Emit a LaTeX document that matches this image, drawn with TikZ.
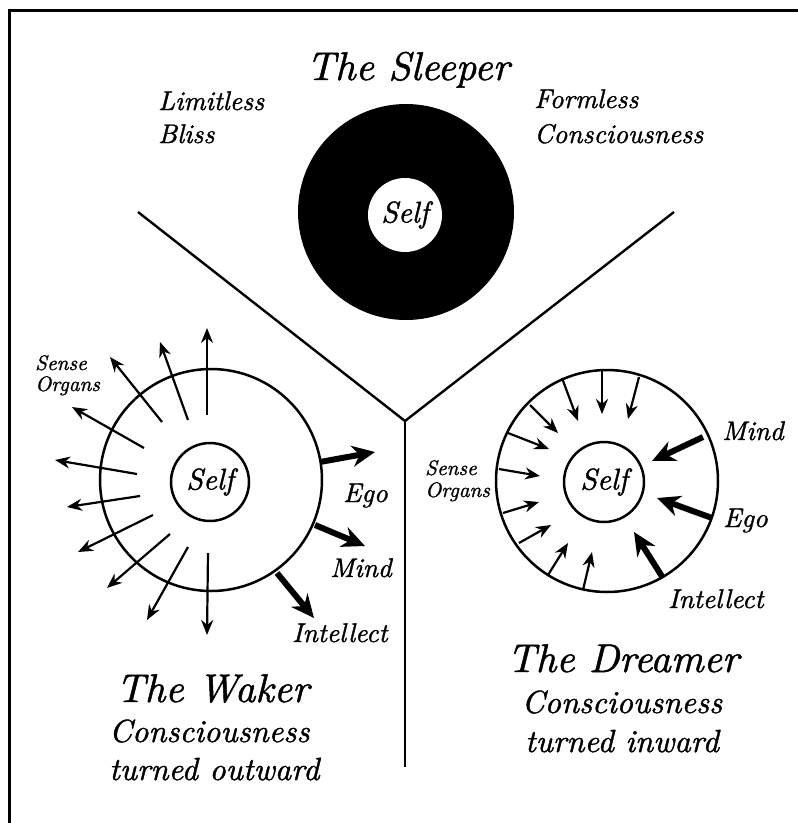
\documentclass[tikz,border=0pt]{standalone}
\usepackage{fontspec}
\newfontfamily\labfont{lmroman10-italic.otf}[FakeBold=1.2]
\usetikzlibrary{arrows.meta}
\tikzset{
  frameline/.style={line width=3pt},
  divline/.style={line width=2.4pt},
  ring/.style={circle, draw, line width=2.5pt, inner sep=0pt},
  thinarrow/.style={line width=2.2pt, -{Stealth[length=15pt,width=12pt]}},
  thickarrow/.style={line width=6pt, -{Stealth[length=23pt,width=21pt]}},
  title/.style={font=\fontsize{40}{40}\selectfont\labfont, inner sep=0pt},
  sub/.style={font=\fontsize{32}{32}\selectfont\labfont, inner sep=0pt},
  mid/.style={font=\fontsize{27}{27}\selectfont\labfont, inner sep=0pt},
  part/.style={font=\fontsize{27}{27}\selectfont\labfont, inner sep=0pt},
  small/.style={font=\fontsize{21}{21}\selectfont\labfont, inner sep=0pt},
  selftxt/.style={font=\fontsize{30}{30}\selectfont\labfont},
}
\begin{document}
\begin{tikzpicture}[x=1pt,y=-1pt]
\useasboundingbox (0,0) rectangle (798,823);
% frame
\draw[frameline] (9,823) -- (9,10) -- (798,10);
% dividing lines
\coordinate (vl) at (138,212);
\coordinate (vr) at (674,212);
\coordinate (vj) at (405,421);
\coordinate (vb) at (405,767);
\draw[divline] (vl) -- (vj) -- (vr);
\draw[divline] (vj) -- (vb);
% Sleeper
\node[circle, fill=black, minimum size=216pt, inner sep=0pt] (sdisk) at (406,212) {};
\node[circle, fill=white, minimum size=74pt, inner sep=0pt, selftxt] (sself) at (405,215) {Self};
\node[title, anchor=base] (stitle) at (408,80) {The Sleeper};
\node[mid, anchor=base west] (lim1) at (158,110) {Limitless};
\node[mid, anchor=base west] (lim2) at (158,143) {Bliss};
\node[mid, anchor=base west] (for1) at (534,108) {Formless};
\node[mid, anchor=base west] (for2) at (534,143) {Consciousness};
% Waker
\node[ring, minimum size=222pt] (wouter) at (211,480) {};
\node[ring, minimum size=78pt, selftxt] (wself) at (210,482) {Self};
\draw[thinarrow] (207,415) -- (207,328);
\draw[thinarrow] (188,420) -- (160,342);
\draw[thinarrow] (162,422) -- (110,357);
\draw[thinarrow] (144,448) -- (72,407);
\draw[thinarrow] (137,474) -- (55,460);
\draw[thinarrow] (140,496) -- (67,507);
\draw[thinarrow] (153,515) -- (78,552);
\draw[thinarrow] (170,534) -- (107,588);
\draw[thinarrow] (188,547) -- (147,620);
\draw[thinarrow] (208,553) -- (207,635);
\draw[thickarrow] (320,462) -- (375,452);
\draw[thickarrow] (315,525) -- (365,546);
\draw[thickarrow] (277,573) -- (314,618);
\node[part, anchor=base west] (wego) at (343,502) {Ego};
\node[part, anchor=base west] (wmind) at (330,577) {Mind};
\node[part, anchor=base west] (wint) at (292,642) {Intellect};
\node[small, anchor=base west] (wsense1) at (35,370) {Sense};
\node[small, anchor=base west] (wsense2) at (35,391) {Organs};
\node[title, anchor=base west] (wtitle) at (116,702) {The Waker};
\node[sub, anchor=base west] (wsub1) at (109,742) {Consciousness};
\node[sub, anchor=base west] (wsub2) at (109,780) {turned outward};
% Dreamer
\node[ring, minimum size=222pt] (douter) at (607,481) {};
\node[ring, minimum size=80pt, selftxt] (dself) at (604,482) {Self};
\draw[thinarrow] (562,378) -- (578,421);
\draw[thinarrow] (602,370) -- (602,414);
\draw[thinarrow] (639,377) -- (628,419);
\draw[thinarrow] (530,405) -- (558,433);
\draw[thinarrow] (508,433) -- (549,449);
\draw[thinarrow] (499,469) -- (540,476);
\draw[thinarrow] (503,513) -- (539,502);
\draw[thinarrow] (519,543) -- (551,525);
\draw[thinarrow] (548,575) -- (568,543);
\draw[thinarrow] (583,590) -- (592,552);
\draw[thickarrow] (703,437) -- (652,461);
\draw[thickarrow] (712,518) -- (657,498);
\draw[thickarrow] (663,578) -- (634,532);
\node[part, anchor=base west] (dmind) at (722,440) {Mind};
\node[part, anchor=base west] (dego) at (723,527) {Ego};
\node[part, anchor=base west] (dint) at (668,608) {Intellect};
\node[small, anchor=base west] (dsense1) at (425,475) {Sense};
\node[small, anchor=base west] (dsense2) at (425,497) {Organs};
\node[title, anchor=base] (dtitle) at (623,672) {The Dreamer};
\node[sub, anchor=base] (dsub1) at (622,713) {Consciousness};
\node[sub, anchor=base] (dsub2) at (622,752) {turned inward};
\end{tikzpicture}
\end{document}
